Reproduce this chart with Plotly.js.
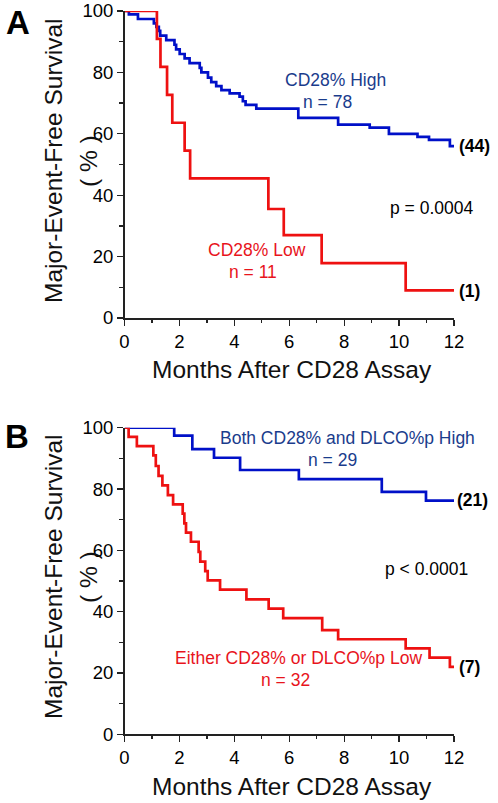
<!DOCTYPE html>
<html>
<head>
<meta charset="utf-8">
<script src="https://cdn.plot.ly/plotly-3.0.1.min.js"></script>
<style>
html,body{margin:0;padding:0;background:#fff;}
#chart{width:498px;height:803px;}
</style>
</head>
<body>
<div id="chart"></div>
<script>
// Panel A: CD28% High (n = 78) vs CD28% Low (n = 11)
const monthsAHigh = [0, 0.16, 0.49, 1.07, 1.16, 1.25, 1.30, 1.52, 1.82, 1.88, 2.01, 2.19, 2.37, 2.74, 2.80, 3.04, 3.16, 3.34, 3.53, 3.83, 4.19, 4.31, 4.41, 4.80, 6.33, 7.78, 8.93, 9.63, 10.67, 11.09, 11.85, 12];
const survAHigh  = [100, 98.9, 97.4, 96.0, 94.8, 93.5, 92.0, 90.5, 89.0, 87.5, 86.0, 84.6, 83.0, 81.5, 80.0, 78.3, 76.8, 75.5, 74.2, 73.2, 72.1, 70.6, 69.4, 68.2, 65.2, 63.0, 62.0, 60.0, 59.0, 58.0, 56.0, 56.0];
const monthsALow = [0, 1.18, 1.31, 1.55, 1.74, 2.19, 2.39, 5.24, 5.80, 7.18, 10.24, 12];
const survALow   = [100, 90.9, 81.8, 72.7, 63.6, 54.5, 45.5, 35.5, 27.0, 17.9, 9.0, 9.0];

// Panel B: Both high (n = 29) vs Either low (n = 32)
const monthsBHigh = [0, 1.81, 2.47, 3.26, 4.21, 6.35, 9.37, 10.98, 12];
const survBHigh   = [100, 97.4, 93.0, 90.2, 86.2, 83.2, 79.1, 76.2, 76.2];
const monthsBLow = [0, 0.15, 0.45, 1.05, 1.14, 1.24, 1.38, 1.58, 1.77, 2.12, 2.18, 2.24, 2.42, 2.70, 2.76, 2.94, 3.03, 3.48, 4.44, 5.25, 5.78, 7.20, 7.78, 10.24, 11.11, 11.85, 12];
const survBLow   = [100, 97.0, 94.0, 91.0, 87.5, 84.3, 81.2, 78.0, 75.0, 72.0, 68.8, 65.8, 62.8, 59.5, 56.3, 53.2, 50.2, 47.2, 44.0, 41.0, 37.9, 34.0, 31.0, 28.0, 25.0, 22.0, 22.0];

const xTicks = [0, 2, 4, 6, 8, 10, 12];
const yTicks = [0, 20, 40, 60, 80, 100];

const W = 498, H = 803;
const px = v => v / W;
const py = v => 1 - v / H;

const BLUE = '#0010c8';
const RED = '#ee1111';
const BLUE_TXT = '#1a3c8c';
const RED_TXT = '#e8141c';
const FONT = 'Arial, "Liberation Sans", sans-serif';

function curve(x, y, color, xa, ya) {
  return {x: x, y: y, xaxis: xa, yaxis: ya, type: 'scatter', mode: 'lines',
    line: {shape: 'hv', color: color, width: 2.7}, cliponaxis: false, hoverinfo: 'skip', showlegend: false};
}

const data = [
  curve(monthsAHigh, survAHigh, BLUE, 'x', 'y'),
  curve(monthsALow, survALow, RED, 'x', 'y'),
  curve(monthsBHigh, survBHigh, BLUE, 'x2', 'y2'),
  curve(monthsBLow, survBLow, RED, 'x2', 'y2')
];

function xAxis(anchor) {
  return {domain: [px(124.5), px(454)], range: [0, 12], anchor: anchor,
    tickmode: 'array', tickvals: xTicks, ticks: 'outside', ticklen: 6, tickwidth: 1.3, tickcolor: '#222',
    minor: {dtick: 1, tick0: 0, ticks: 'outside', ticklen: 3, tickwidth: 1.3, tickcolor: '#222'},
    showline: true, linecolor: '#222', linewidth: 1.5, showgrid: false, zeroline: false,
    tickfont: {family: FONT, size: 18.5, color: '#000'}, fixedrange: true};
}
function yAxis(anchor, top, bottom) {
  return {domain: [py(bottom), py(top)], range: [0, 100], anchor: anchor,
    tickmode: 'array', tickvals: yTicks, ticks: 'outside', ticklen: 6, tickwidth: 1.3, tickcolor: '#222',
    minor: {dtick: 10, tick0: 0, ticks: 'outside', ticklen: 4, tickwidth: 1.3, tickcolor: '#222'},
    showline: true, linecolor: '#222', linewidth: 1.5, showgrid: false, zeroline: false,
    tickfont: {family: FONT, size: 18.5, color: '#000'}, fixedrange: true};
}

function txt(text, x, y, opts) {
  return Object.assign({text: text, xref: 'paper', yref: 'paper', x: px(x), y: py(y),
    xanchor: 'center', yanchor: 'middle', showarrow: false,
    font: {family: FONT, size: 17, color: '#000'}}, opts || {});
}

const annotations = [
  txt('<b>A</b>', 18, 22, {font: {family: FONT, size: 33, color: '#000'}}),
  txt('<b>B</b>', 17, 437, {font: {family: FONT, size: 33, color: '#000'}}),
  // Panel A
  txt('Major-Event-Free Survival', 53, 161, {textangle: -90, font: {family: FONT, size: 24.5, color: '#111'}}),
  txt('( % )', 88, 161, {textangle: -90, font: {family: FONT, size: 24.5, color: '#111'}}),
  txt('Months After CD28 Assay', 292, 369, {font: {family: FONT, size: 24.5, color: '#111'}}),
  txt('CD28% High', 335, 80, {font: {family: FONT, size: 17.5, color: BLUE_TXT}}),
  txt('n = 78', 327, 102, {font: {family: FONT, size: 17.5, color: BLUE_TXT}}),
  txt('p = 0.0004', 431, 208, {font: {family: FONT, size: 17.5, color: '#000'}}),
  txt('CD28% Low', 257, 250, {font: {family: FONT, size: 17.5, color: RED_TXT}}),
  txt('n = 11', 253, 272, {font: {family: FONT, size: 17.5, color: RED_TXT}}),
  txt('<b>(44)</b>', 457, 146, {xanchor: 'left', font: {family: FONT, size: 17.5, color: '#000'}}),
  txt('<b>(1)</b>', 457, 291, {xanchor: 'left', font: {family: FONT, size: 17.5, color: '#000'}}),
  // Panel B
  txt('Major-Event-Free Survival', 53, 577, {textangle: -90, font: {family: FONT, size: 24.5, color: '#111'}}),
  txt('( % )', 88, 577, {textangle: -90, font: {family: FONT, size: 24.5, color: '#111'}}),
  txt('Months After CD28 Assay', 292, 786, {font: {family: FONT, size: 24.5, color: '#111'}}),
  txt('Both CD28% and DLCO%p High', 347, 438, {font: {family: FONT, size: 17.5, color: BLUE_TXT}}),
  txt('n = 29', 332, 460, {font: {family: FONT, size: 17.5, color: BLUE_TXT}}),
  txt('p < 0.0001', 426, 569, {font: {family: FONT, size: 17.5, color: '#000'}}),
  txt('Either CD28% or DLCO%p Low', 298, 658, {font: {family: FONT, size: 17.5, color: RED_TXT}}),
  txt('n = 32', 285, 680, {font: {family: FONT, size: 17.5, color: RED_TXT}}),
  txt('<b>(21)</b>', 455, 500, {xanchor: 'left', font: {family: FONT, size: 17.5, color: '#000'}}),
  txt('<b>(7)</b>', 457, 667, {xanchor: 'left', font: {family: FONT, size: 17.5, color: '#000'}})
];

const layout = {
  width: W, height: H,
  margin: {l: 0, r: 0, t: 0, b: 0, pad: 0},
  paper_bgcolor: '#fff', plot_bgcolor: '#fff',
  showlegend: false,
  font: {family: FONT},
  xaxis: xAxis('y'),
  yaxis: yAxis('x', 11, 318),
  xaxis2: xAxis('y2'),
  yaxis2: yAxis('x2', 427.7, 734.3),
  annotations: annotations
};

Plotly.newPlot('chart', data, layout, {staticPlot: true, displayModeBar: false});
</script>
</body>
</html>
